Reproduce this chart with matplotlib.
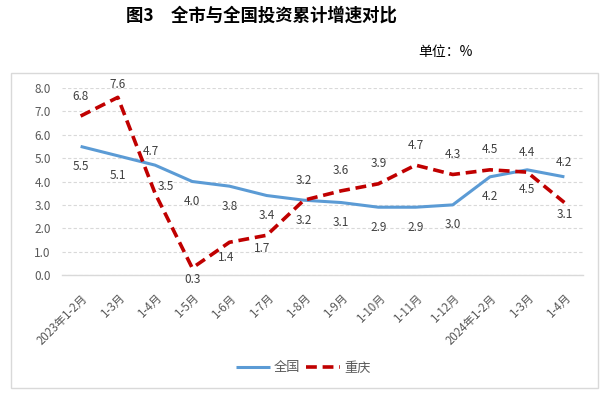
import matplotlib
matplotlib.use("Agg")
import matplotlib.pyplot as plt
from matplotlib.patches import Rectangle

plt.rcParams['font.family'] = ['Noto Sans CJK SC', 'DejaVu Sans']

months = ['2023年1-2月', '1-3月', '1-4月', '1-5月', '1-6月', '1-7月', '1-8月',
          '1-9月', '1-10月', '1-11月', '1-12月', '2024年1-2月', '1-3月', '1-4月']
national = [5.5, 5.1, 4.7, 4.0, 3.8, 3.4, 3.2, 3.1, 2.9, 2.9, 3.0, 4.2, 4.5, 4.2]
chongqing = [6.8, 7.6, 3.5, 0.3, 1.4, 1.7, 3.2, 3.6, 3.9, 4.7, 4.3, 4.5, 4.4, 3.1]

BLUE = '#5B9BD5'
RED = '#C00000'
GRAY = '#595959'
LBL = '#404040'

fig = plt.figure(figsize=(6.11, 3.95), dpi=100)
ax = fig.add_axes([62 / 611, 1 - 275 / 395, (583 - 62) / 611, (275 - 88) / 395])

x = list(range(len(months)))
ax.plot(x, national, color=BLUE, lw=2.2, label='全国', solid_capstyle='butt')
ax.plot(x, chongqing, color=RED, lw=2.6, ls=(0, (3, 1.6)), label='重庆')

# label offsets in pixels (default: 全国 below, 重庆 above)
off_nat = {i: (0, -20) for i in x}
off_nat[2] = (-4, 14)
off_nat[13] = (0, 14)
off_cq = {i: (0, 20) for i in x}
off_cq[1] = (0, 13)
off_cq[2] = (11, 7)
off_cq[3] = (0, -12)
off_cq[4] = (-3, -15)
off_cq[5] = (-5, -13)
off_cq[13] = (0, -12)

for i in x:
    ax.annotate(f'{national[i]:.1f}', (i, national[i]),
                xytext=(off_nat[i][0] * 0.72, off_nat[i][1] * 0.72), textcoords='offset points',
                ha='center', va='center', fontsize=8.5, color=LBL, annotation_clip=False)
    ax.annotate(f'{chongqing[i]:.1f}', (i, chongqing[i]),
                xytext=(off_cq[i][0] * 0.72, off_cq[i][1] * 0.72), textcoords='offset points',
                ha='center', va='center', fontsize=8.5, color=LBL, annotation_clip=False)

ax.set_xlim(-0.5, len(months) - 0.5)
ax.set_ylim(0, 8)
ax.set_yticks([0, 1, 2, 3, 4, 5, 6, 7, 8])
ax.set_yticklabels([f'{v:.1f}' for v in range(9)], fontsize=8.5, color=GRAY)
ax.set_xticks(x)
ax.set_xticklabels(months, rotation=45, ha='right', rotation_mode='anchor',
                   fontsize=8.3, color=GRAY)
ax.tick_params(axis='both', length=0)
ax.tick_params(axis='x', pad=12)
ax.tick_params(axis='y', pad=8)

ax.grid(axis='y', color='#D9D9D9', ls=(0, (3, 2)), lw=0.8)
ax.set_axisbelow(True)
for s in ['left', 'top', 'right']:
    ax.spines[s].set_visible(False)
ax.spines['bottom'].set_color('#D9D9D9')
ax.spines['bottom'].set_linewidth(1.0)

leg = fig.legend(loc='center', bbox_to_anchor=(303 / 611, 27 / 395), ncol=2, frameon=False,
                 fontsize=9.5, handlelength=2.6, handletextpad=0.3, columnspacing=0.4)
for t in leg.get_texts():
    t.set_color(GRAY)

# outer chart border
fig.patches.append(Rectangle((11 / 611, 1 - 388 / 395), (598 - 11) / 611, (388 - 73) / 395,
                             transform=fig.transFigure, fill=False, ec='#D9D9D9', lw=1.0))

fig.text(261 / 611, 1 - 16 / 395, '图3　全市与全国投资累计增速对比', ha='center', va='center',
         fontsize=12.5, fontweight='bold', color='black')
fig.text(473 / 611, 1 - 52 / 395, '单位：%', ha='right', va='center', fontsize=10, color='black')

fig.savefig('out.png', dpi=100)
